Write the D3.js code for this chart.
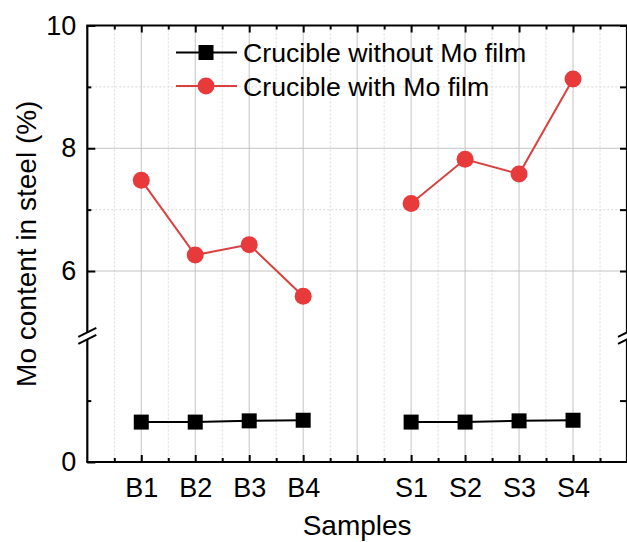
<!DOCTYPE html>
<html>
<head>
<meta charset="utf-8">
<script src="https://cdn.jsdelivr.net/npm/d3@7"></script>
<style>
  html, body { margin: 0; padding: 0; background: #fff; }
  svg { display: block; font-family: "Liberation Sans", Arial, sans-serif; }
</style>
</head>
<body>
<svg id="chart" width="627" height="542"></svg>
<script>
// Samples and their positions along the x axis (a gap separates the B and S groups)
const samples = ["B1", "B2", "B3", "B4", "S1", "S2", "S3", "S4"];
const positions = [1, 2, 3, 4, 6, 7, 8, 9];
const groups = [[0, 1, 2, 3], [4, 5, 6, 7]];

// Mo content (%) in steel
const withoutFilm = [0.65, 0.65, 0.67, 0.68, 0.65, 0.65, 0.67, 0.68];
const withFilm = [7.48, 6.26, 6.43, 5.59, 7.10, 7.82, 7.58, 9.13];

const seriesNames = ["Crucible without Mo film", "Crucible with Mo film"];

// Broken y axis: lower segment and upper segment share one unit size
const lowerDomain = [0, 2];
const upperDomain = [5, 10];
const upperMajor = [6, 8, 10];
const upperMinor = [7, 9];
const lowerMajor = [0];
const lowerMinor = [1];

const plotL = 87.3, plotR = 627, plotT = 25.5, plotB = 462;

const svg = d3.select("#chart");

const x = d3.scaleLinear().domain([0, 10]).range([plotL, plotR]);
const yUp = d3.scaleLinear().domain(upperDomain).range([332.4, plotT]);
const yLo = d3.scaleLinear().domain(lowerDomain).range([plotB, 339.2]);
const y = v => (v >= upperDomain[0] ? yUp(v) : yLo(v));

const majorX = d3.range(1, 10);
const minorX = d3.range(0.5, 10, 1);

// Grid lines
const grid = svg.append("g");
grid.selectAll(".vmin").data(minorX).join("line")
  .attr("x1", d => x(d)).attr("x2", d => x(d))
  .attr("y1", plotT).attr("y2", plotB)
  .attr("stroke", "#d8d8d8").attr("stroke-width", 1).attr("stroke-dasharray", "2,2");
grid.selectAll(".vmaj").data(majorX).join("line")
  .attr("x1", d => x(d)).attr("x2", d => x(d))
  .attr("y1", plotT).attr("y2", plotB)
  .attr("stroke", "#c4c4c4").attr("stroke-width", 1);
grid.selectAll(".hmin").data(upperMinor).join("line")
  .attr("x1", plotL).attr("x2", plotR)
  .attr("y1", d => yUp(d)).attr("y2", d => yUp(d))
  .attr("stroke", "#d8d8d8").attr("stroke-width", 1).attr("stroke-dasharray", "2,2");
grid.selectAll(".hmaj").data([6, 8]).join("line")
  .attr("x1", plotL).attr("x2", plotR)
  .attr("y1", d => yUp(d)).attr("y2", d => yUp(d))
  .attr("stroke", "#c4c4c4").attr("stroke-width", 1);

// Axes with inward ticks
function styleAxis(g) {
  g.select(".domain").remove();
  g.selectAll(".tick line").attr("stroke", "#000").attr("stroke-width", 2);
  g.selectAll(".tick text").attr("fill", "#000").attr("font-size", 27);
}
const labelAt = d => { const i = positions.indexOf(d); return i >= 0 ? samples[i] : ""; };

svg.append("g").attr("transform", `translate(0,${plotB})`)
  .call(d3.axisBottom(x).tickValues(majorX).tickSize(-7).tickPadding(16).tickFormat(labelAt))
  .call(styleAxis);
svg.append("g").attr("transform", `translate(0,${plotB})`)
  .call(d3.axisBottom(x).tickValues(minorX).tickSize(-4).tickFormat(""))
  .call(styleAxis);
svg.append("g").attr("transform", `translate(0,${plotT})`)
  .call(d3.axisTop(x).tickValues(majorX).tickSize(-7).tickFormat(""))
  .call(styleAxis);
svg.append("g").attr("transform", `translate(0,${plotT})`)
  .call(d3.axisTop(x).tickValues(minorX).tickSize(-4).tickFormat(""))
  .call(styleAxis);

// Left axis: labels on both segments
svg.append("g").attr("transform", `translate(${plotL},0)`)
  .call(d3.axisLeft(yUp).tickValues(upperMajor).tickSize(-8).tickPadding(11).tickFormat(d3.format("d")))
  .call(styleAxis);
svg.append("g").attr("transform", `translate(${plotL},0)`)
  .call(d3.axisLeft(yUp).tickValues(upperMinor).tickSize(-4).tickFormat(""))
  .call(styleAxis);
svg.append("g").attr("transform", `translate(${plotL},0)`)
  .call(d3.axisLeft(yLo).tickValues(lowerMajor).tickSize(-8).tickPadding(11).tickFormat(d3.format("d")))
  .call(styleAxis);
svg.append("g").attr("transform", `translate(${plotL},0)`)
  .call(d3.axisLeft(yLo).tickValues(lowerMinor).tickSize(-4).tickFormat(""))
  .call(styleAxis);

// Right axis: ticks only
svg.append("g").attr("transform", `translate(${plotR},0)`)
  .call(d3.axisRight(yUp).tickValues(upperMajor.concat(upperMinor)).tickSize(-7).tickFormat(""))
  .call(styleAxis);
svg.append("g").attr("transform", `translate(${plotR},0)`)
  .call(d3.axisRight(yLo).tickValues(lowerMinor).tickSize(-7).tickFormat(""))
  .call(styleAxis);

// Frame, with the vertical sides interrupted at the break
const breakTop = yUp(upperDomain[0]), breakBot = yLo(lowerDomain[1]);
const frame = svg.append("g").attr("stroke", "#000").attr("stroke-width", 2.2).attr("fill", "none");
frame.append("line").attr("x1", plotL - 1).attr("x2", plotR + 1).attr("y1", plotT).attr("y2", plotT);
frame.append("line").attr("x1", plotL - 1).attr("x2", plotR + 1).attr("y1", plotB).attr("y2", plotB);
[plotL, plotR].forEach(xx => {
  frame.append("line").attr("x1", xx).attr("x2", xx).attr("y1", plotT).attr("y2", breakTop);
  frame.append("line").attr("x1", xx).attr("x2", xx).attr("y1", breakBot).attr("y2", plotB);
  // break marks: two parallel slashes
  const cy = (breakTop + breakBot) / 2;
  [-3.5, 3.5].forEach(off => {
    frame.append("line")
      .attr("x1", xx - 9).attr("y1", cy + off + 4.5)
      .attr("x2", xx + 9).attr("y2", cy + off - 4.5)
      .attr("stroke-width", 2);
  });
});

// Series
const red = "#e8393b";
const lineRed = "#d9413f";

groups.forEach(g => {
  svg.append("path")
    .attr("d", d3.line().x(i => x(positions[i])).y(i => y(withoutFilm[i]))(g))
    .attr("fill", "none").attr("stroke", "#000").attr("stroke-width", 2);
  svg.append("path")
    .attr("d", d3.line().x(i => x(positions[i])).y(i => y(withFilm[i]))(g))
    .attr("fill", "none").attr("stroke", lineRed).attr("stroke-width", 2);
});

const sq = 15;
svg.append("g").selectAll("rect").data(withoutFilm).join("rect")
  .attr("x", (d, i) => x(positions[i]) - sq / 2)
  .attr("y", d => y(d) - sq / 2)
  .attr("width", sq).attr("height", sq).attr("fill", "#000");

svg.append("g").selectAll("circle").data(withFilm).join("circle")
  .attr("cx", (d, i) => x(positions[i]))
  .attr("cy", d => y(d))
  .attr("r", 8.5).attr("fill", red);

// Legend
const legend = svg.append("g");
const legendRows = [
  { name: seriesNames[0], color: "#000", lineColor: "#000", shape: "square" },
  { name: seriesNames[1], color: red, lineColor: lineRed, shape: "circle" }
];
legendRows.forEach((r, k) => {
  const ly = 52.5 + k * 33.5;
  legend.append("line").attr("x1", 176).attr("x2", 237).attr("y1", ly).attr("y2", ly)
    .attr("stroke", r.lineColor).attr("stroke-width", 2);
  if (r.shape === "square") {
    legend.append("rect").attr("x", 206 - sq / 2).attr("y", ly - sq / 2)
      .attr("width", sq).attr("height", sq).attr("fill", r.color);
  } else {
    legend.append("circle").attr("cx", 206).attr("cy", ly).attr("r", 8.5).attr("fill", r.color);
  }
  legend.append("text").attr("x", 243).attr("y", ly + 9.5)
    .attr("font-size", 26.7).attr("fill", "#000").text(r.name);
});

// Axis titles
svg.append("text")
  .attr("transform", `translate(36,${(plotT + plotB) / 2}) rotate(-90)`)
  .attr("text-anchor", "middle").attr("font-size", 28).attr("fill", "#000")
  .text("Mo content in steel (%)");
svg.append("text")
  .attr("x", (plotL + plotR) / 2).attr("y", 535)
  .attr("text-anchor", "middle").attr("font-size", 28).attr("fill", "#000")
  .text("Samples");
</script>
</body>
</html>
